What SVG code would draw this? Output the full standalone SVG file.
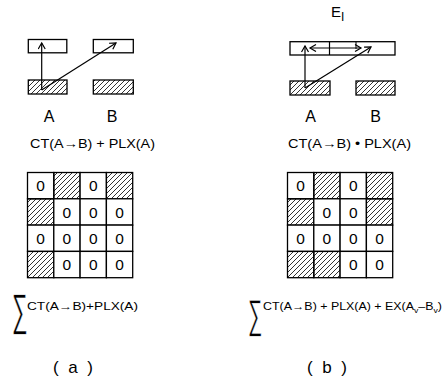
<svg xmlns="http://www.w3.org/2000/svg" width="448" height="384" viewBox="0 0 448 384">
<style>
.box{fill:#fff;stroke:#000;stroke-width:1.3}
.hat{fill:url(#h);stroke:#000;stroke-width:1.3}
.t{font-family:"Liberation Sans",Arial,sans-serif;fill:#000}
.z{font-family:"Liberation Sans",Arial,sans-serif;font-size:15.5px;fill:#000;text-anchor:middle}
.arr{stroke:#000;stroke-width:1.2;fill:none;marker-end:url(#ah)}
.sig{font-family:"Liberation Sans",sans-serif;fill:#000;stroke:#fff;stroke-width:0.5}
</style>
<defs>
<pattern id="h" patternUnits="userSpaceOnUse" width="5" height="5">
<path d="M-1,1 L1,-1 M0,5 L5,0 M4,6 L6,4" stroke="#000" stroke-width="0.8"/>
</pattern>
<marker id="ah" markerUnits="userSpaceOnUse" markerWidth="10" markerHeight="10" refX="7" refY="4" orient="auto-start-reverse">
<path d="M1,0.5 L7,4 L1,7.5" fill="none" stroke="#000" stroke-width="1.2"/>
</marker>
</defs>

<!-- (a) top diagram -->
<g id="a-upperA"><rect class="box" x="28.3" y="39.5" width="38.5" height="13.3"/></g>
<g id="a-upperB"><rect class="box" x="93.3" y="39.5" width="40" height="13.3"/></g>
<g id="a-lowerA"><rect class="hat" x="28.3" y="80" width="38.7" height="14"/></g>
<g id="a-lowerB"><rect class="hat" x="93.3" y="80" width="40" height="14"/></g>
<g id="a-labelA"><text class="t" x="49" y="121.5" font-size="16" text-anchor="middle">A</text></g>
<g id="a-labelB"><text class="t" x="112" y="121.5" font-size="16" text-anchor="middle">B</text></g>
<g id="a-formula"><text class="t" x="30" y="148" font-size="13.5" textLength="125" lengthAdjust="spacingAndGlyphs">CT(A→B) + PLX(A)</text></g>

<!-- (b) top diagram -->
<g id="b-EI"><text class="t" x="331" y="17" font-size="15">E<tspan font-size="12" dy="4">I</tspan></text></g>
<g id="b-upper">
<rect class="box" x="290" y="41.7" width="105" height="13.3"/>
<line x1="329.5" y1="41.7" x2="329.5" y2="55" stroke="#000" stroke-width="1.2"/>
<line x1="356" y1="41.7" x2="356" y2="49" stroke="#000" stroke-width="1"/>
</g>
<g id="b-lowerA"><rect class="hat" x="290" y="81" width="40" height="14"/></g>
<g id="b-lowerB"><rect class="hat" x="356" y="81" width="39" height="14"/></g>
<g id="b-labelA"><text class="t" x="310.7" y="121.5" font-size="16" text-anchor="middle">A</text></g>
<g id="b-labelB"><text class="t" x="375.7" y="121.5" font-size="16" text-anchor="middle">B</text></g>
<g id="b-formula"><text class="t" x="288" y="148" font-size="13.5" textLength="123" lengthAdjust="spacingAndGlyphs">CT(A→B) • PLX(A)</text></g>

<!-- connectors -->
<g id="connectors">
<line class="arr" x1="41.7" y1="90" x2="41.7" y2="43"/>
<line class="arr" x1="41.7" y1="90" x2="116" y2="43"/>
<line class="arr" x1="305" y1="88" x2="305" y2="46"/>
<line class="arr" x1="305" y1="88" x2="371" y2="47"/>
<line class="arr" x1="361" y1="48" x2="310" y2="48" marker-start="url(#ah)"/>
</g>

<!-- (a) grid -->
<g id="a-grid">
<rect class="box" x="27.5" y="172.5" width="26.3" height="26.3"/><text class="z" x="40.6" y="191.3">0</text>
<rect class="hat" x="53.8" y="172.5" width="26.3" height="26.3"/>
<rect class="box" x="80.1" y="172.5" width="26.3" height="26.3"/><text class="z" x="93.2" y="191.3">0</text>
<rect class="hat" x="106.4" y="172.5" width="26.3" height="26.3"/>

<rect class="hat" x="27.5" y="198.8" width="26.3" height="26.3"/>
<rect class="box" x="53.8" y="198.8" width="26.3" height="26.3"/><text class="z" x="66.9" y="217.6">0</text>
<rect class="box" x="80.1" y="198.8" width="26.3" height="26.3"/><text class="z" x="93.2" y="217.6">0</text>
<rect class="box" x="106.4" y="198.8" width="26.3" height="26.3"/><text class="z" x="119.5" y="217.6">0</text>

<rect class="box" x="27.5" y="225.1" width="26.3" height="26.3"/><text class="z" x="40.6" y="243.9">0</text>
<rect class="box" x="53.8" y="225.1" width="26.3" height="26.3"/><text class="z" x="66.9" y="243.9">0</text>
<rect class="box" x="80.1" y="225.1" width="26.3" height="26.3"/><text class="z" x="93.2" y="243.9">0</text>
<rect class="box" x="106.4" y="225.1" width="26.3" height="26.3"/><text class="z" x="119.5" y="243.9">0</text>

<rect class="hat" x="27.5" y="251.4" width="26.3" height="26.3"/>
<rect class="box" x="53.8" y="251.4" width="26.3" height="26.3"/><text class="z" x="66.9" y="270.2">0</text>
<rect class="box" x="80.1" y="251.4" width="26.3" height="26.3"/><text class="z" x="93.2" y="270.2">0</text>
<rect class="box" x="106.4" y="251.4" width="26.3" height="26.3"/><text class="z" x="119.5" y="270.2">0</text>
</g>

<!-- (b) grid -->
<g id="b-grid">
<rect class="box" x="287.5" y="172.5" width="26.3" height="26.3"/><text class="z" x="300.6" y="191.3">0</text>
<rect class="hat" x="313.8" y="172.5" width="26.3" height="26.3"/>
<rect class="box" x="340.1" y="172.5" width="26.3" height="26.3"/><text class="z" x="353.2" y="191.3">0</text>
<rect class="hat" x="366.4" y="172.5" width="26.3" height="26.3"/>

<rect class="hat" x="287.5" y="198.8" width="26.3" height="26.3"/>
<rect class="box" x="313.8" y="198.8" width="26.3" height="26.3"/><text class="z" x="326.9" y="217.6">0</text>
<rect class="box" x="340.1" y="198.8" width="26.3" height="26.3"/><text class="z" x="353.2" y="217.6">0</text>
<rect class="hat" x="366.4" y="198.8" width="26.3" height="26.3"/>

<rect class="box" x="287.5" y="225.1" width="26.3" height="26.3"/><text class="z" x="300.6" y="243.9">0</text>
<rect class="box" x="313.8" y="225.1" width="26.3" height="26.3"/><text class="z" x="326.9" y="243.9">0</text>
<rect class="box" x="340.1" y="225.1" width="26.3" height="26.3"/><text class="z" x="353.2" y="243.9">0</text>
<rect class="box" x="366.4" y="225.1" width="26.3" height="26.3"/><text class="z" x="379.5" y="243.9">0</text>

<rect class="hat" x="287.5" y="251.4" width="26.3" height="26.3"/>
<rect class="hat" x="313.8" y="251.4" width="26.3" height="26.3"/>
<rect class="box" x="340.1" y="251.4" width="26.3" height="26.3"/><text class="z" x="353.2" y="270.2">0</text>
<rect class="box" x="366.4" y="251.4" width="26.3" height="26.3"/><text class="z" x="379.5" y="270.2">0</text>
</g>

<!-- sums -->
<g id="a-sum">
<text class="sig" font-size="44" transform="translate(12,325) scale(0.5,1)">∑</text>
<text class="t" x="27" y="310" font-size="10.5" textLength="111" lengthAdjust="spacingAndGlyphs">CT(A→B)+PLX(A)</text>
</g>
<g id="b-sum">
<text class="sig" font-size="40" transform="translate(248,328) scale(0.5,1)">∑</text>
<text class="t" x="263" y="310" font-size="11.5" textLength="179" lengthAdjust="spacingAndGlyphs">CT(A→B) + PLX(A) + EX(A<tspan font-size="8" dy="3">v</tspan><tspan dy="-3">–B</tspan><tspan font-size="8" dy="3">v</tspan><tspan dy="-3">)</tspan></text>
</g>

<g id="cap-a"><text class="t" x="53" y="373" font-size="17" textLength="40" lengthAdjust="spacing" xml:space="preserve">( a )</text></g>
<g id="cap-b"><text class="t" x="307" y="373" font-size="17" textLength="40" lengthAdjust="spacing" xml:space="preserve">( b )</text></g>
</svg>
